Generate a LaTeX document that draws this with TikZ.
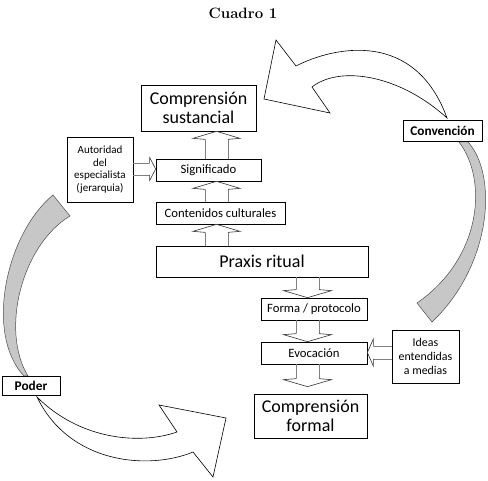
\documentclass[tikz,border=0pt]{standalone}
\usepackage{fontspec}
\newfontfamily\cf{Carlito}
\usetikzlibrary{calc}
\tikzset{
  box/.style={draw, line width=0.7pt, fill=white, inner sep=0pt, align=center, font=\cf},
  bigtxt/.style={font=\cf\fontsize{18}{19}\selectfont},
  midtxt/.style={font=\cf\fontsize{12.7}{14}\selectfont},
  smalltxt/.style={font=\cf\fontsize{11}{12.5}\selectfont},
  idtxt/.style={font=\cf\fontsize{11.9}{14}\selectfont},
  boldtxt/.style={font=\cf\bfseries\fontsize{13.3}{14}\selectfont},
  stemc/.style={draw=black!50, line width=0.7pt},
  headc/.style={draw=black!80, line width=0.6pt, fill=white},
  bigw/.style={draw=black, line width=0.6pt, fill=white},
  bigg/.style={draw=black!70, line width=0.5pt, fill=black!22}
}
% vertical block arrow pointing up: from node #1 to node #2 at x=#3
\newcommand\blkup[3]{%
  \draw[stemc] let \p1=(#1.north), \p2=(#2.south) in
    ({(#3-11.5)*1pt},\y1) -- ({(#3-11.5)*1pt},{\y2-8pt})
    ({(#3+11.5)*1pt},\y1) -- ({(#3+11.5)*1pt},{\y2-8pt});
  \draw[headc] let \p2=(#2.south) in
    ({(#3-11.5)*1pt},{\y2-8pt}) -- ({(#3-23.5)*1pt},{\y2-7pt}) -- ({#3*1pt},\y2)
    -- ({(#3+23.5)*1pt},{\y2-7pt}) -- ({(#3+11.5)*1pt},{\y2-8pt});
}
% vertical block arrow pointing down: from #1 to #2 at x=#3, tip gap #4
\newcommand\blkdown[4]{%
  \draw[stemc] let \p1=(#1.south), \p2=(#2.north) in
    ({(#3-11.5)*1pt},\y1) -- ({(#3-11.5)*1pt},{\y2+#4pt+8pt})
    ({(#3+11.5)*1pt},\y1) -- ({(#3+11.5)*1pt},{\y2+#4pt+8pt});
  \draw[headc] let \p2=(#2.north) in
    ({(#3-11.5)*1pt},{\y2+#4pt+8pt}) -- ({(#3-24)*1pt},{\y2+#4pt+7pt}) -- ({#3*1pt},{\y2+#4pt})
    -- ({(#3+24)*1pt},{\y2+#4pt+7pt}) -- ({(#3+11.5)*1pt},{\y2+#4pt+8pt});
}
\begin{document}
\begin{tikzpicture}[x=1pt,y=1pt]
\useasboundingbox (0,0) rectangle (488,480);

% title
\node[font=\bfseries\fontsize{15}{16}\selectfont] (title) at (243,467) {Cuadro 1};

% big curved arrow from Convención (white)
\draw[bigw] (447,362) .. controls (415,450) and (335,434) .. (296,414)
  -- (276,440) -- (264,381) -- (330,367) -- (312,393)
  .. controls (340,415) and (400,405) .. (447,362) -- cycle;

% gray arrow from Convención down
\draw[bigg] (468,338) .. controls (498,305) and (492,215) .. (432,158)
  -- (417,177) .. controls (482,222) and (488,300) .. (459,338) -- cycle;

% gray arrow on the left towards Poder
\draw[bigg] (53,285) .. controls (5,245) and (-15,145) .. (24,104)
  -- (28,104) .. controls (0,150) and (22,235) .. (70,264) -- cycle;

% white arrow from Poder
\draw[bigw] (37,83) .. controls (80,40) and (140,35) .. (177,48)
  -- (159,75) -- (226,62) -- (213,3) -- (193,28)
  .. controls (150,10) and (70,15) .. (37,83) -- cycle;

% boxes
\node[box, bigtxt, minimum width=115, minimum height=46] (sust) at (198.5,372) {Comprensión\\sustancial};
\node[box, smalltxt, minimum width=66, minimum height=65] (autor) at (100,310.5) {Autoridad\\del\\especialista\\(jerarquia)};
\node[box, midtxt, minimum width=105, minimum height=22] (sig) at (208.5,310) {Significado};
\node[box, midtxt, minimum width=129, minimum height=22] (cont) at (220.5,267) {Contenidos culturales};
\node[box, bigtxt, minimum width=212, minimum height=31] (praxis) at (262,218.5) {Praxis ritual};
\node[box, midtxt, minimum width=106, minimum height=22] (forma) at (314,171) {Forma / protocolo};
\node[box, midtxt, minimum width=106, minimum height=22] (evoc) at (314,127) {Evocación};
\node[box, idtxt, minimum width=67, minimum height=53] (ideas) at (425.5,123.5) {Ideas\\entendidas\\a medias};
\node[box, bigtxt, minimum width=113, minimum height=44] (formal) at (310.5,64) {Comprensión\\formal};
\node[box, boldtxt, minimum width=79, minimum height=21] (conv) at (442.5,349.5) {Convención};
\node[box, boldtxt, minimum width=58, minimum height=19] (poder) at (31,94.5) {Poder};

% block arrows up
\blkup{praxis}{cont}{216.5}
\blkup{cont}{sig}{216.5}
\blkup{sig}{sust}{216.5}
% block arrows down
\blkdown{praxis}{forma}{307.5}{0}
\blkdown{forma}{evoc}{307.5}{0}
\blkdown{evoc}{formal}{307.5}{7}
% horizontal: Autoridad -> Significado
\draw[stemc] let \p1=(autor.east), \p2=(sig.west) in
  (\x1,317) -- ({\x2-6pt},317) (\x1,305) -- ({\x2-6pt},305);
\draw[headc] let \p2=(sig.west) in
  ({\x2-6pt},317) -- ({\x2-6pt},322.5) -- (\x2,311) -- ({\x2-6pt},299.5) -- ({\x2-6pt},305);
% horizontal: Ideas -> Evocación
\draw[stemc] let \p1=(ideas.west), \p2=(evoc.east) in
  (\x1,134) -- ({\x2+6pt},134) (\x1,121) -- ({\x2+6pt},121);
\draw[headc] let \p2=(evoc.east) in
  ({\x2+6pt},134) -- ({\x2+6pt},141) -- (\x2,127.5) -- ({\x2+6pt},114) -- ({\x2+6pt},121);
\end{tikzpicture}
\end{document}
